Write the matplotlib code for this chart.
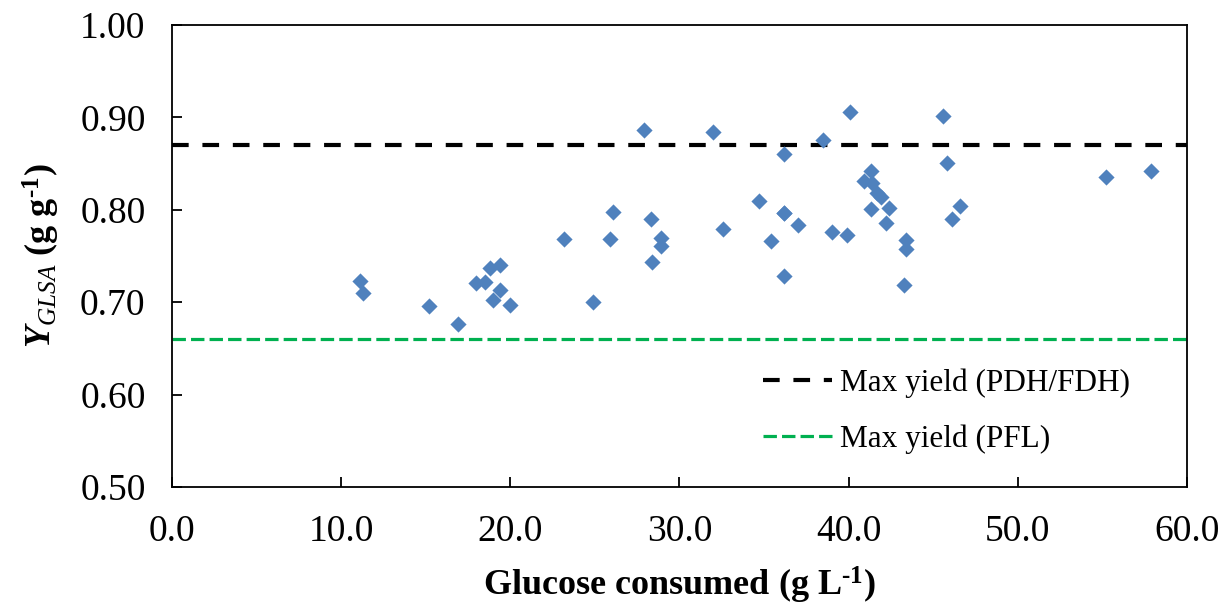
import matplotlib
matplotlib.use("Agg")
import matplotlib.pyplot as plt

glucose = [11.1, 11.3, 15.2, 16.9, 18.0, 18.5, 18.8, 19.4, 19.4, 19.0,
           20.0, 23.2, 24.9, 25.9, 26.05, 27.9, 28.3, 28.4, 28.9, 28.9,
           32.0, 32.6, 34.7, 35.4, 36.2, 36.2, 36.2, 36.2, 37.0, 38.5,
           39.0, 39.9, 40.1, 40.9, 41.3, 41.4, 41.3, 41.7, 41.9, 42.2,
           42.4, 43.4, 43.4, 43.3, 45.55, 45.8, 46.1, 46.6, 55.2, 57.9]
yield_glsa = [0.723, 0.710, 0.696, 0.676, 0.721, 0.722, 0.737, 0.740, 0.713, 0.702,
              0.697, 0.768, 0.700, 0.768, 0.798, 0.886, 0.790, 0.744, 0.770, 0.761,
              0.884, 0.779, 0.810, 0.766, 0.860, 0.796, 0.728, 0.796, 0.784, 0.876,
              0.776, 0.773, 0.906, 0.831, 0.842, 0.829, 0.801, 0.818, 0.814, 0.786,
              0.802, 0.767, 0.758, 0.719, 0.902, 0.851, 0.790, 0.804, 0.835, 0.842]
max_yield_pdh = 0.87
max_yield_pfl = 0.66
labels = ["Max yield (PDH/FDH)", "Max yield (PFL)"]

plt.rcParams['font.family'] = ['Liberation Serif', 'DejaVu Serif']
plt.rcParams['mathtext.fontset'] = 'custom'
plt.rcParams['mathtext.rm'] = 'Liberation Serif:bold'
plt.rcParams['mathtext.it'] = 'Liberation Serif:italic'
plt.rcParams['mathtext.bf'] = 'Liberation Serif:bold'
plt.rcParams['mathtext.bfit'] = 'Liberation Serif:italic:bold'

fig = plt.figure(figsize=(12.3, 6.08), dpi=100)
ax = fig.add_axes([0.1398, 0.199, 0.8252, 0.7599])

ax.scatter(glucose, yield_glsa, marker='D', s=68, color='#4F81BD', zorder=3, linewidths=0)
ax.axhline(max_yield_pdh, color='black', lw=3, linestyle=(0, (4, 3.3)), label=labels[0], zorder=2)
ax.axhline(max_yield_pfl, color='#00B050', lw=2.3, linestyle=(0, (4.2, 1.6)), label=labels[1], zorder=2)

ax.set_xlim(0, 60)
ax.set_ylim(0.5, 1.0)
ax.set_xticks([0, 10, 20, 30, 40, 50, 60])
ax.set_yticks([0.5, 0.6, 0.7, 0.8, 0.9, 1.0])
ax.xaxis.set_major_formatter(matplotlib.ticker.FormatStrFormatter('%.1f'))
ax.yaxis.set_major_formatter(matplotlib.ticker.FormatStrFormatter('%.2f'))
ax.tick_params(direction='in', length=7, width=1.3, labelsize=27)
ax.tick_params(axis='x', pad=19.5)
ax.tick_params(axis='y', pad=19)
for sp in ax.spines.values():
    sp.set_linewidth(1.3)

ax.set_xlabel(r'Glucose consumed (g L$^{\text{-1}}$)', fontsize=26, fontweight='bold', labelpad=12)
ax.set_ylabel(r'$\mathbfit{Y}_{\mathit{GLSA}}$ (g g$^{\text{-1}}$)', fontsize=26, fontweight='bold', labelpad=13)

leg = ax.legend(loc='lower left', bbox_to_anchor=(0.57, 0.045), frameon=False, fontsize=22.5,
                handlelength=2.2, handletextpad=0.25, labelspacing=0.85, borderaxespad=0)

fig.savefig('out.png', dpi=100)
